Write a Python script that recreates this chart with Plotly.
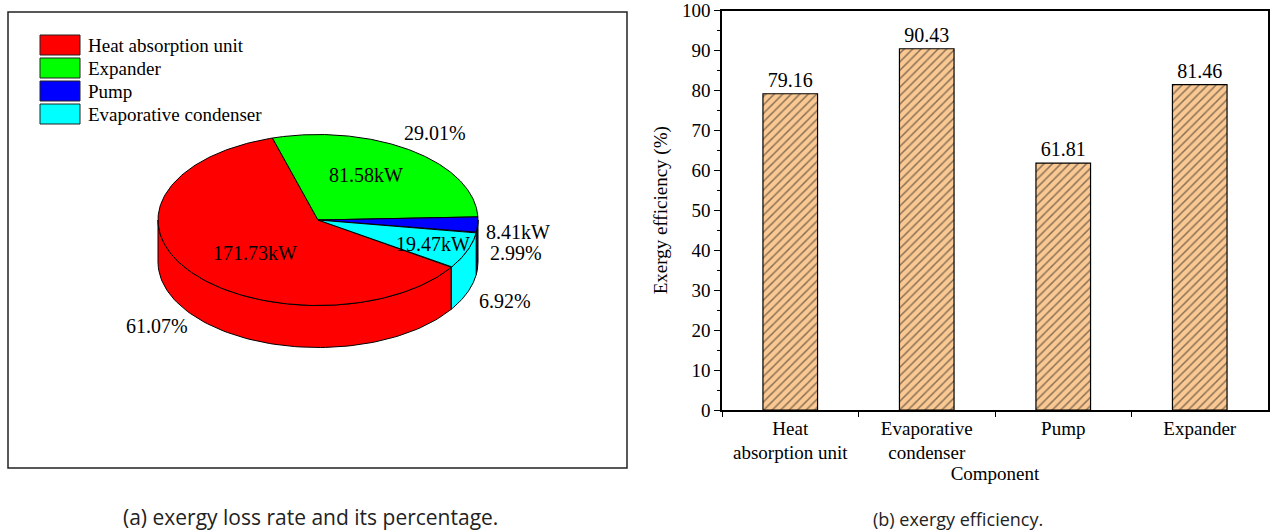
import numpy as np
import plotly.graph_objects as go

# Exergy loss rate per component (kW) and its share of the total (%)
loss_components = ["Heat absorption unit", "Expander", "Pump", "Evaporative condenser"]
loss_kw = [171.73, 81.58, 8.41, 19.47]
loss_pct = [61.07, 29.01, 2.99, 6.92]
loss_colors = ["#FF0000", "#00FF00", "#0000FF", "#00FFFF"]

# Exergy efficiency per component (%)
eff_components = ["Heat<br>absorption unit", "Evaporative<br>condenser", "Pump", "Expander"]
eff_values = [79.16, 90.43, 61.81, 81.46]

SERIF = "Liberation Serif, Times New Roman, serif"
W, H = 1270, 532

# ---- 3D pie geometry (left panel axes are laid out in pixel units) ----
CX, CY, RX, RY, DEPTH = 318, 220, 160, 85.5, 42
START = -33.6                     # first slice starts here and runs clockwise
IN_R = [0.55, 0.60, None, 0.77]   # radial position of the kW label (None -> outside)
IN_DA = [8, 6, 0, 0]              # angular nudge of the kW label
OUT_R = 1.25
OUT_DROP = [1.0, 0.0, 0.38, 1.0]  # how far outside labels sit down the side wall
PAIR_GAP = 21                     # line gap when both labels sit outside


def ell(t_deg, r=1.0, dy=0.0):
    t = np.radians(t_deg)
    return CX + r * RX * np.cos(t), CY - r * RY * np.sin(t) + dy


def label(x, y, txt):
    fig.add_annotation(x=x, y=y, xref="x2", yref="y2", text=txt, showarrow=False,
                       font=dict(family=SERIF, size=20, color="black"))


fig = go.Figure()

total = sum(loss_kw)
spans = [v / total * 360 for v in loss_kw]
starts = START - np.concatenate([[0], np.cumsum(spans)[:-1]])
ends = starts - np.array(spans)

# side walls (only the front half of the cylinder is visible)
for i in range(len(loss_kw)):
    lo, hi = ends[i], starts[i]
    for k in range(-3, 2):
        a, b = max(lo, 180 + 360 * k), min(hi, 360 + 360 * k)
        if b - a <= 0:
            continue
        t = np.linspace(a, b, 80)
        xt, yt = ell(t)
        xb, yb = ell(t[::-1], dy=DEPTH)
        fig.add_trace(go.Scatter(
            x=np.concatenate([xt, xb, xt[:1]]), y=np.concatenate([yt, yb, yt[:1]]),
            xaxis="x2", yaxis="y2", mode="lines", fill="toself",
            fillcolor=loss_colors[i], line=dict(color="black", width=1),
            hoverinfo="skip", showlegend=False))

# top face wedges
for i in range(len(loss_kw)):
    t = np.linspace(ends[i], starts[i], 200)
    xa, ya = ell(t)
    fig.add_trace(go.Scatter(
        x=np.concatenate([[CX], xa, [CX]]), y=np.concatenate([[CY], ya, [CY]]),
        xaxis="x2", yaxis="y2", mode="lines", fill="toself",
        fillcolor=loss_colors[i], line=dict(color="black", width=1),
        hoverinfo="skip", showlegend=False))

# slice labels
for i in range(len(loss_kw)):
    mid = (starts[i] + ends[i]) / 2
    kw_txt = f"{loss_kw[i]:.2f}kW"
    pct_txt = f"{loss_pct[i]:.2f}%"
    ox, oy = ell(mid, OUT_R, DEPTH * OUT_DROP[i])
    if IN_R[i] is None:
        label(ox, oy - PAIR_GAP / 2, kw_txt)
        label(ox - 2, oy + PAIR_GAP / 2, pct_txt)
    else:
        ix, iy = ell(mid + IN_DA[i], IN_R[i])
        label(ix, iy, kw_txt)
        label(ox, oy, pct_txt)

# legend box of the pie panel
for i, name in enumerate(loss_components):
    y0 = 35 + 23 * i
    fig.add_shape(type="rect", xref="x2", yref="y2", x0=40, x1=80, y0=y0, y1=y0 + 20,
                  fillcolor=loss_colors[i], line=dict(color="#222", width=1))
    fig.add_annotation(x=86, y=y0 + 10, xref="x2", yref="y2", text=name, showarrow=False,
                       xanchor="left", yanchor="middle",
                       font=dict(family=SERIF, size=19, color="black"))

# frame around the pie panel
fig.add_shape(type="rect", xref="x2", yref="y2", x0=8, x1=627, y0=12, y1=468,
              line=dict(color="#222", width=1.5), fillcolor="rgba(0,0,0,0)")

# ---- bar chart of exergy efficiency ----
fig.add_trace(go.Bar(
    x=eff_components, y=eff_values, width=0.4,
    marker=dict(color="#FAC892", line=dict(color="black", width=1.2),
                pattern=dict(shape="/", fgcolor="#1a1a1a", bgcolor="#FAC892", size=6, solidity=0.25)),
    text=[f"{v:.2f}" for v in eff_values], textposition="outside", cliponaxis=False,
    textfont=dict(family=SERIF, size=20, color="black"),
    showlegend=False, hoverinfo="skip"))

fig.update_layout(
    width=W, height=H, autosize=False, margin=dict(l=0, r=0, t=0, b=0, autoexpand=False),
    paper_bgcolor="white", plot_bgcolor="rgba(0,0,0,0)",
    xaxis=dict(domain=[722 / W, 1268 / W], range=[-0.5, 3.5], showline=True, linecolor="black",
               linewidth=1.5, mirror=True, ticks="outside", ticklen=5, tickwidth=1.2,
               tickcolor="black", tickson="boundaries", showgrid=False, automargin=False,
               tickfont=dict(family=SERIF, size=19, color="black"),
               title=dict(text="Component", font=dict(family=SERIF, size=19, color="black"),
                          standoff=2)),
    yaxis=dict(domain=[1 - 410 / H, 1 - 10.5 / H], range=[0, 100], dtick=10, showline=True,
               linecolor="black", linewidth=1.5, mirror=True, ticks="outside", ticklen=6,
               tickwidth=1.2, tickcolor="black", showgrid=False, zeroline=False,
               automargin=False, ticklabeloverflow="allow",
               minor=dict(dtick=5, ticks="outside", ticklen=3, tickcolor="black", tickwidth=1),
               tickfont=dict(family=SERIF, size=19, color="black"),
               title=dict(text="Exergy efficiency (%)",
                          font=dict(family=SERIF, size=19, color="black"), standoff=9)),
    xaxis2=dict(domain=[0, 640 / W], range=[0, 640], visible=False, fixedrange=True),
    yaxis2=dict(domain=[0, 1], range=[H, 0], visible=False, fixedrange=True),
)

# panel captions
fig.add_annotation(x=310 / W, y=1 - 517 / H, xref="paper", yref="paper",
                   xanchor="center", yanchor="middle",
                   text="(a) exergy loss rate and its percentage.", showarrow=False,
                   font=dict(family="Open Sans, sans-serif", size=21, color="#222"))
fig.add_annotation(x=958 / W, y=1 - 519 / H, xref="paper", yref="paper",
                   xanchor="center", yanchor="middle",
                   text="(b) exergy efficiency.", showarrow=False,
                   font=dict(family="Open Sans, sans-serif", size=18, color="#222"))

fig.write_html("out.html", config={"responsive": False})
